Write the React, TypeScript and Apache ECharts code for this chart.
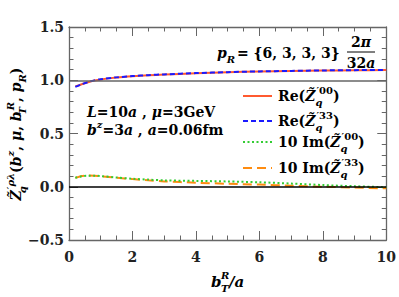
import React, { useEffect, useRef } from "react";
import * as echarts from "echarts";

const bT = [0.2, 0.4, 0.6, 0.8, 1.0, 1.5, 2, 2.5, 3, 4, 5, 6, 7, 8, 9, 10];
const re00 = [0.942, 0.963, 0.982, 0.997, 1.008, 1.025, 1.037, 1.046, 1.053, 1.066, 1.075, 1.082, 1.087, 1.091, 1.094, 1.096];
const re33 = [0.938, 0.962, 0.983, 0.999, 1.01, 1.027, 1.039, 1.048, 1.055, 1.067, 1.076, 1.083, 1.088, 1.092, 1.095, 1.097];
const im00 = [0.085, 0.098, 0.104, 0.104, 0.1, 0.087, 0.075, 0.067, 0.06, 0.055, 0.05, 0.042, 0.03, 0.016, 0.005, -0.005];
const im33 = [0.083, 0.1, 0.106, 0.104, 0.099, 0.085, 0.072, 0.06, 0.05, 0.038, 0.028, 0.02, 0.01, 0.0, -0.008, -0.015];

const xMin = 0, xMax = 10, xStep = 2;
const yMin = -0.5, yMax = 1.5, yStep = 0.5;

const FONT = "'DejaVu Serif', serif";

const tok = (size: number, italic: boolean, va: string, lh: number, extra: any = {}) => ({
  fontFamily: FONT,
  fontWeight: "bold",
  fontStyle: italic ? "italic" : "normal",
  fontSize: size,
  lineHeight: lh,
  verticalAlign: va,
  fill: "#000",
  color: "#000",
  ...extra,
});

const rich = {
  n: tok(14, false, "middle", 22),
  i: tok(14, true, "middle", 22),
  sup: tok(10, false, "top", 9),
  supI: tok(10, true, "top", 9),
  subI: tok(10, true, "bottom", 9),
  subW: tok(10, true, "bottom", 9, { width: 1 }),
};

const richText = (x: number, y: number, text: string, align = "left", extra: any = {}) => ({
  type: "text",
  x,
  y,
  silent: true,
  ...extra,
  style: {
    text,
    rich,
    align,
    verticalAlign: "middle",
    fontFamily: FONT,
    fontWeight: "bold",
    fontSize: 14,
    fill: "#000",
  },
});

const plainText = (x: number, y: number, text: string, size: number, italic: boolean, align = "left") => ({
  type: "text",
  x,
  y,
  silent: true,
  style: {
    text,
    align,
    verticalAlign: "middle",
    fontFamily: FONT,
    fontWeight: "bold",
    fontStyle: italic ? "italic" : "normal",
    fontSize: size,
    fill: "#000",
  },
});

const legendItems = [
  { y: 96, color: "#ff5a30", dash: null as any, text: "{n|Re(}{i|Z\u0303}{subW|q}{sup|\u203200}{n|)}" },
  { y: 121, color: "#1a1aff", dash: [5, 3], text: "{n|Re(}{i|Z\u0303}{subW|q}{sup|\u203233}{n|)}" },
  { y: 142, color: "#33cc33", dash: [2, 2.5], text: "{n|10 Im(}{i|Z\u0303}{subW|q}{sup|\u203200}{n|)}" },
  { y: 168, color: "#ff8c10", dash: [9, 5], text: "{n|10 Im(}{i|Z\u0303}{subW|q}{sup|\u203233}{n|)}" },
];

export default function App() {
  const ref = useRef<HTMLDivElement>(null);
  useEffect(() => {
    if (!ref.current) return;
    const chart = echarts.init(ref.current, null, { renderer: "svg" });
    const axisCommon = {
      type: "value",
      axisLine: { show: true, onZero: false, lineStyle: { color: "#666", width: 1.3 } },
      splitLine: { show: false },
    };
    const mkX = (pos: string, labels: boolean) => ({
      ...axisCommon,
      position: pos,
      min: xMin,
      max: xMax,
      interval: xStep,
      axisTick: { show: true, inside: true, length: 9, lineStyle: { color: "#666", width: 1 } },
      minorTick: { show: true, splitNumber: 4, length: 4.5, lineStyle: { color: "#666", width: 1 } },
      axisLabel: {
        show: labels,
        fontFamily: FONT,
        fontWeight: "bold",
        fontSize: 14,
        color: "#222",
        margin: 10,
      },
    });
    const mkY = (pos: string, labels: boolean) => ({
      ...axisCommon,
      position: pos,
      min: yMin,
      max: yMax,
      interval: yStep,
      axisTick: { show: true, inside: true, length: 9, lineStyle: { color: "#666", width: 1 } },
      minorTick: { show: true, splitNumber: 5, length: 4.5, lineStyle: { color: "#666", width: 1 } },
      axisLabel: {
        show: labels,
        fontFamily: FONT,
        fontWeight: "bold",
        fontSize: 14,
        color: "#222",
        margin: 5,
        formatter: (v: number) => v.toFixed(1).replace("-", "\u2212"),
      },
    });
    const line = (data: number[], color: string, dash: any, z: number, extra: any = {}) => ({
      type: "line",
      data: bT.map((x, i) => [x, data[i]]),
      symbol: "none",
      smooth: 0.3,
      z,
      lineStyle: { color, width: 2, type: dash || "solid" },
      ...extra,
    });
    chart.setOption({
      animation: false,
      grid: { left: 69, right: 11, top: 27, bottom: 57 },
      xAxis: [mkX("bottom", true), mkX("top", false)],
      yAxis: [mkY("left", true), mkY("right", false)],
      series: [
        line(re00, legendItems[0].color, null, 2, {
          markLine: {
            silent: true,
            symbol: ["none", "none"],
            label: { show: false },
            data: [
              { yAxis: 1, lineStyle: { color: "#666", width: 1.5, type: "solid" } },
              { yAxis: 0, lineStyle: { color: "#000", width: 1.5, type: "solid" } },
            ],
          },
        }),
        line(re33, legendItems[1].color, legendItems[1].dash, 3),
        line(im33, legendItems[3].color, legendItems[3].dash, 3),
        line(im00, legendItems[2].color, legendItems[2].dash, 4),
      ],
      graphic: [
        richText(87, 112, "{i|L}{n|=10}{i|a}{n| , }{i|\u03bc}{n|=3GeV}"),
        richText(87, 130, "{i|b}{supI|z}{n|=3}{i|a}{n| , }{i|a}{n|=0.06fm}"),
        richText(217, 53, "{i|p}{subI|R}"),
        plainText(237, 53, "= {6, 3, 3, 3}", 14, false),
        richText(361, 42, "{n|2}{i|\u03c0}", "center"),
        {
          type: "line",
          silent: true,
          shape: { x1: 347, y1: 52, x2: 375, y2: 52 },
          style: { stroke: "#000", lineWidth: 1 },
        },
        richText(361, 63, "{n|32}{i|a}", "center"),
        ...legendItems.flatMap((it) => [
          {
            type: "line",
            silent: true,
            shape: { x1: 243, y1: it.y, x2: 272, y2: it.y },
            style: { stroke: it.color, lineWidth: 2, lineDash: it.dash || undefined },
          },
          richText(278, it.y, it.text),
        ]),
        plainText(211, 282, "b", 15, true),
        plainText(221, 275, "R", 10, true),
        plainText(221, 288, "T", 10, true),
        plainText(229, 282, "/a", 15, true),
        richText(
          16,
          134,
          "{i|Z\u0303}{subW|q}{supI|\u2032\u03c1\u03bb}{n|(}{i|b}{supI|z}{n|, }{i|\u03bc}{n|, }{i|b}{subW|T}{supI|R}{n|, }{i|p}{subI|R}{n|)}",
          "center",
          { rotation: Math.PI / 2 }
        ),
      ],
    });
    return () => chart.dispose();
  }, []);
  return (
    <div
      ref={ref}
      style={{ position: "absolute", left: 0, top: 0, width: 399, height: 297, background: "#fff" }}
    />
  );
}
